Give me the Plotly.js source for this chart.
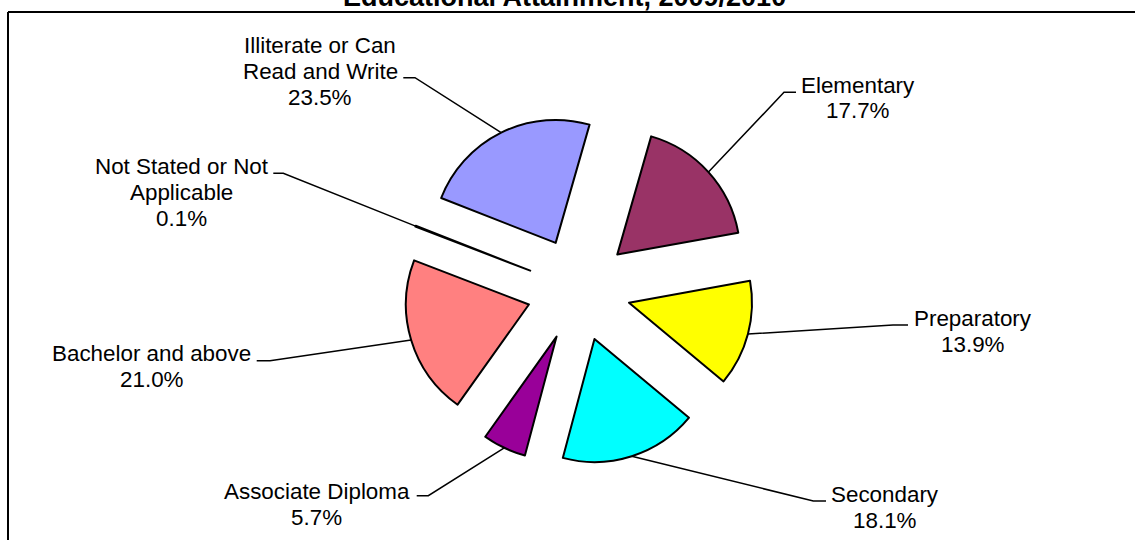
<!DOCTYPE html>
<html><head><meta charset="utf-8">
<script src="https://cdn.plot.ly/plotly-3.0.1.min.js"></script>
<style>html,body{margin:0;padding:0;background:#fff;}#chart{width:1135px;height:540px;}</style>
</head><body><div id="chart"></div>
<script>
// ---- data ----
const categories = ["Elementary", "Preparatory", "Secondary", "Associate Diploma", "Bachelor and above", "Not Stated or Not Applicable", "Illiterate or Can Read and Write"];
const categoryLines = [["Elementary"], ["Preparatory"], ["Secondary"], ["Associate Diploma"], ["Bachelor and above"], ["Not Stated or Not", "Applicable"], ["Illiterate or Can", "Read and Write"]];
const shares = [17.7, 13.9, 18.1, 5.7, 21.0, 0.1, 23.5];
const sliceColors = ["#993366", "#FFFF00", "#00FFFF", "#990099", "#FF8080", "#0066CC", "#9999FF"];
const chartTitle = "Educational Attainment, 2009/2010";

// ---- layout geometry (pixels) ----
const W = 1135, H = 540;
const CX = 578.7, CY = 289.5, HALF = 175, PULL = 0.4228, ROT = 16;
const FONT = "Arial, 'Liberation Sans', sans-serif";
const FS = 22.4, LH = 26;
const labelLayout = [
  {x: 858, y: 85,  elbow: [[784, 92.3], [796, 92.3]]},
  {x: 973, y: 318.3, elbow: [[893, 325], [908, 325]]},
  {x: 885, y: 494.3, elbow: [[813.3, 501], [826, 501]]},
  {x: 316.7, y: 491.7, elbow: [[428.3, 495.7], [416.7, 495.7]]},
  {x: 151.7, y: 353.3, elbow: [[270, 360.7], [256.7, 360.7]]},
  {x: 181.7, y: 166.7, elbow: [[283.3, 173.3], [273.3, 173.3]]},
  {x: 320, y: 45.5, elbow: [[415, 77.7], [403.3, 77.7]]}
];

const px = x => x / W;
const py = y => 1 - y / H;

const trace = {
  type: 'pie',
  labels: categories,
  values: shares,
  sort: false,
  direction: 'clockwise',
  rotation: ROT,
  pull: shares.map(() => PULL),
  marker: {colors: sliceColors, line: {color: '#000000', width: 2}},
  textinfo: 'none',
  hoverinfo: 'label+percent',
  showlegend: false,
  domain: {x: [px(CX - HALF), px(CX + HALF)], y: [py(CY + HALF), py(CY - HALF)]}
};

const total = shares.reduce((a, b) => a + b, 0);
const annotations = [];
const shapes = [];
let cum = 0;
shares.forEach((v, i) => {
  const mid = (ROT + 360 * (cum + v / 2) / total) * Math.PI / 180;
  cum += v;
  const sx = CX + HALF * Math.sin(mid), sy = CY - HALF * Math.cos(mid);
  const L = labelLayout[i];
  const pts = [[sx, sy]].concat(L.elbow);
  shapes.push({
    type: 'path', xref: 'paper', yref: 'paper',
    path: pts.map((p, k) => (k ? 'L' : 'M') + px(p[0]) + ',' + py(p[1])).join(' '),
    line: {color: '#000000', width: 1.5}
  });
  const lines = categoryLines[i].concat([v.toFixed(1) + '%']);
  lines.forEach((t, k) => {
    annotations.push({
      xref: 'paper', yref: 'paper', x: px(L.x), y: py(L.y + k * LH),
      xanchor: 'center', yanchor: 'middle', showarrow: false,
      text: t, font: {family: FONT, size: FS, color: '#000000'}
    });
  });
});

annotations.push({
  xref: 'paper', yref: 'paper', x: px(564), y: py(-3),
  xanchor: 'center', yanchor: 'middle', showarrow: false,
  text: chartTitle, font: {family: FONT, size: 27, color: '#000000', weight: 'bold'}
});

shapes.push({type: 'line', xref: 'paper', yref: 'paper', x0: px(8), y0: py(12), x1: px(W + 10), y1: py(12), line: {color: '#000000', width: 2}});
shapes.push({type: 'line', xref: 'paper', yref: 'paper', x0: px(8), y0: py(12), x1: px(8), y1: py(H + 10), line: {color: '#000000', width: 2}});

const layout = {
  width: W, height: H,
  margin: {l: 0, r: 0, t: 0, b: 0},
  paper_bgcolor: '#ffffff', plot_bgcolor: '#ffffff',
  showlegend: false,
  annotations: annotations,
  shapes: shapes,
  font: {family: FONT}
};

Plotly.newPlot('chart', [trace], layout, {displayModeBar: false, staticPlot: true});
</script>
</body></html>
